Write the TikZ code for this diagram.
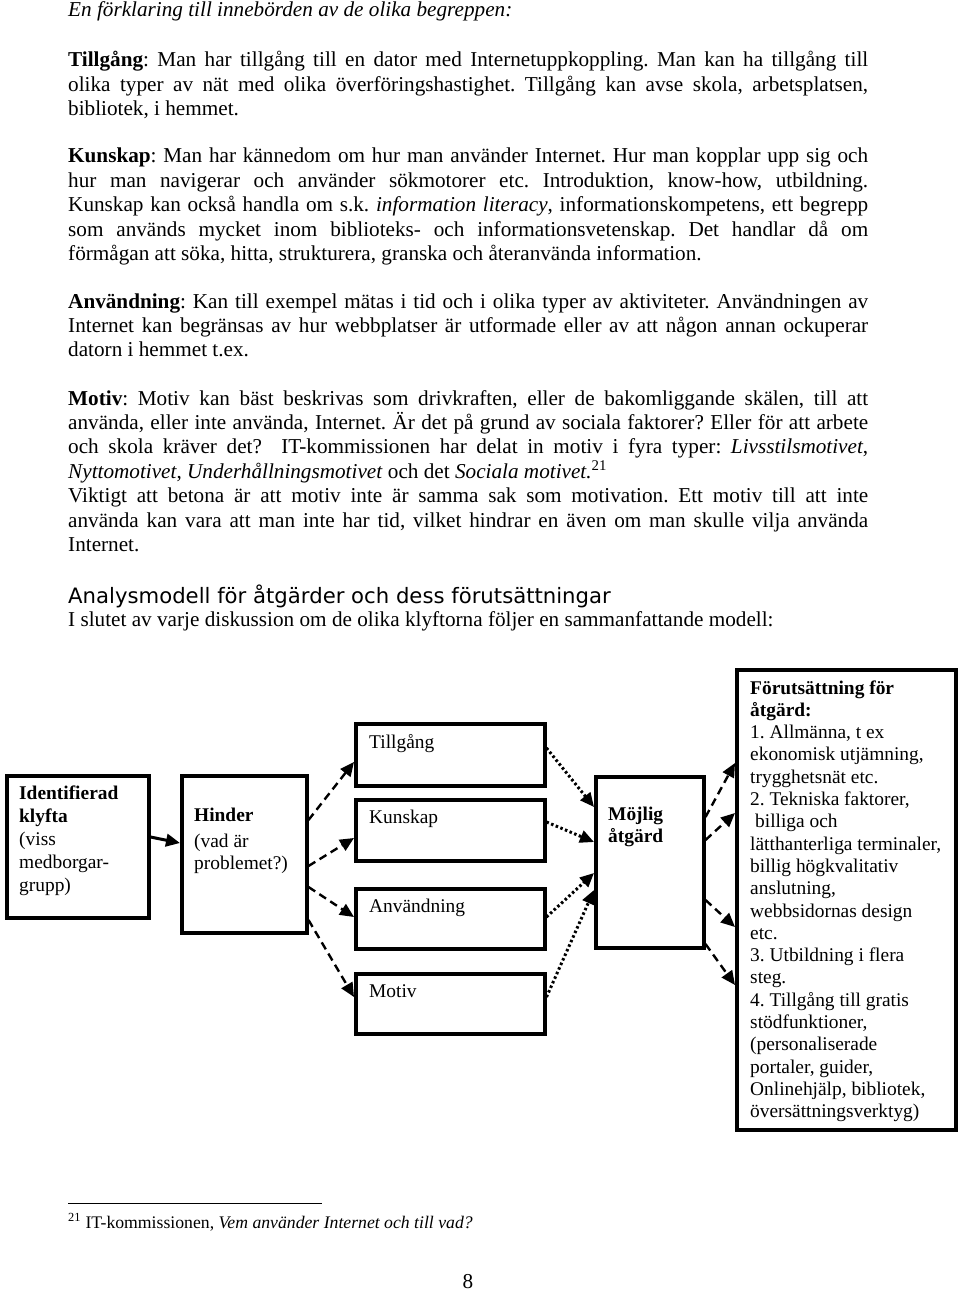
\documentclass[tikz,border=0pt]{standalone}
\usepackage{fontspec}
\setmainfont{Liberation Serif}
\newfontfamily\headfont{DejaVu Sans}
\usetikzlibrary{arrows.meta,calc}

\newcommand\bodysetup{\fontsize{21.2}{24.4}\selectfont\frenchspacing
  \tolerance=9999 \hyphenpenalty=10000 \emergencystretch=30pt\relax}

\tikzset{
  para/.style={anchor=base west, inner sep=0pt, text width=800pt, align=justify, font=\bodysetup},
  box/.style={draw, line width=3.5pt, anchor=north west, inner sep=0pt},
  boxtext/.style={anchor=base west, inner sep=0pt, text width=205pt, align=flush left,
    font=\fontsize{19.4}{22.3}\selectfont\frenchspacing},
  dashedarrow/.style={line width=2.4pt, dash pattern=on 8pt off 5pt, -{Triangle[length=14pt,width=12.5pt]}},
  dottedarrow/.style={line width=3pt, dash pattern=on 2.5pt off 2.5pt, -{Triangle[length=14pt,width=12.5pt]}},
  solidarrow/.style={line width=3pt, -{Triangle[length=14pt,width=12.5pt]}},
}

\begin{document}
\begin{tikzpicture}[x=1pt,y=-1pt]
  \fill[white] (0,0) rectangle (960,1292);
  \useasboundingbox (0,0) rectangle (960,1292);

  % text above the model
  \node[para] (intro) at (68,17) {\itshape En förklaring till innebörden av de olika begreppen:};
  \node[para] (ptillgang) at (68,67) {\textbf{Tillgång}: Man har tillgång till en dator med Internetuppkoppling. Man kan ha tillgång till\linebreak
    olika typer av nät med olika överföringshastighet. Tillgång kan avse skola, arbetsplatsen,\linebreak
    bibliotek, i hemmet.};
  \node[para] (pkunskap) at (68,163) {\textbf{Kunskap}: Man har kännedom om hur man använder Internet. Hur man kopplar upp sig och\linebreak
    hur man navigerar och använder sökmotorer etc. Introduktion, know-how, utbildning.\linebreak
    Kunskap kan också handla om s.k. \textit{information literacy}, informationskompetens, ett begrepp\linebreak
    som används mycket inom biblioteks- och informationsvetenskap. Det handlar då om\linebreak
    förmågan att söka, hitta, strukturera, granska och återanvända information.};
  \node[para] (panvandning) at (68,308) {\textbf{Användning}: Kan till exempel mätas i tid och i olika typer av aktiviteter. Användningen av\linebreak
    Internet kan begränsas av hur webbplatser är utformade eller av att någon annan ockuperar\linebreak
    datorn i hemmet t.ex.};
  \node[para] (pmotiv) at (68,405) {\textbf{Motiv}: Motiv kan bäst beskrivas som drivkraften, eller de bakomliggande skälen, till att\linebreak
    använda, eller inte använda, Internet. Är det på grund av sociala faktorer? Eller för att arbete\linebreak
    och skola kräver det?\ \ IT-kommissionen har delat in motiv i fyra typer: \textit{Livsstilsmotivet},\linebreak
    \textit{Nyttomotivet}, \textit{Underhållningsmotivet} och det \textit{Sociala motivet.}\textsuperscript{21}\\
    Viktigt att betona är att motiv inte är samma sak som motivation. Ett motiv till att inte\linebreak
    använda kan vara att man inte har tid, vilket hindrar en även om man skulle vilja använda\linebreak
    Internet.};
  \node[anchor=base west, inner sep=0pt, font=\headfont\fontsize{21.2}{24}\selectfont] (rubrik) at (68,603)
    {Analysmodell för åtgärder och dess förutsättningar};
  \node[para] (slutet) at (68,626) {I slutet av varje diskussion om de olika klyftorna följer en sammanfattande modell:};

  % the model
  \node[box, minimum width=142pt, minimum height=142pt] (klyfta) at (5,774) {};
  \node[box, minimum width=125pt, minimum height=157pt] (hinder) at (180,774) {};
  \node[box, minimum width=189pt, minimum height=62pt] (tillgang) at (354,722) {};
  \node[box, minimum width=189pt, minimum height=61pt] (kunskap) at (354,798) {};
  \node[box, minimum width=189pt, minimum height=60pt] (anvandning) at (354,887) {};
  \node[box, minimum width=189pt, minimum height=60pt] (motiv) at (354,972) {};
  \node[box, minimum width=108pt, minimum height=171pt] (mojlig) at (594,775) {};
  \node[box, minimum width=219pt, minimum height=460pt] (forut) at (735,668) {};

  \node[boxtext, font=\fontsize{19.4}{23.2}\selectfont] (klyftatxt) at (19,799)
    {\textbf{Identifierad}\\\textbf{klyfta}\\(viss\\medborgar-\\grupp)};
  \node[boxtext] (hindertxt) at (194,821) {\textbf{Hinder}\\[4pt](vad är\\problemet?)};
  \node[boxtext] (tillgangtxt) at (369,748) {Tillgång};
  \node[boxtext] (kunskaptxt) at (369,823) {Kunskap};
  \node[boxtext] (anvandningtxt) at (369,912) {Användning};
  \node[boxtext] (motivtxt) at (369,997) {Motiv};
  \node[boxtext] (mojligtxt) at (608,820) {\textbf{Möjlig}\\\textbf{åtgärd}};
  \node[boxtext] (foruttxt) at (750,694) {\textbf{Förutsättning för}\\\textbf{åtgärd:}\\
    1. Allmänna, t ex\\ekonomisk utjämning,\\trygghetsnät etc.\\
    2. Tekniska faktorer,\\\hspace*{5pt}billiga och\\lätthanterliga terminaler,\\billig högkvalitativ\\anslutning,\\webbsidornas design\\etc.\\
    3. Utbildning i flera\\steg.\\
    4. Tillgång till gratis\\stödfunktioner,\\(personaliserade\\portaler, guider,\\Onlinehjälp, bibliotek,\\översättningsverktyg)};

  \draw[solidarrow] ([yshift=-63pt]klyfta.north east) -- ([yshift=-69pt]hinder.north west);

  \draw[dashedarrow] ([yshift=-46pt]hinder.north east) -- ([yshift=-40pt]tillgang.north west);
  \draw[dashedarrow] ([yshift=-92pt]hinder.north east) -- ([yshift=-40pt]kunskap.north west);
  \draw[dashedarrow] ([yshift=-113pt]hinder.north east) -- ([yshift=-30pt]anvandning.north west);
  \draw[dashedarrow] ([yshift=-146pt]hinder.north east) -- ([yshift=-25pt]motiv.north west);

  \draw[dottedarrow] ([yshift=-26pt]tillgang.north east) -- ([yshift=-32pt]mojlig.north west);
  \draw[dottedarrow] ([yshift=-24pt]kunskap.north east) -- ([yshift=-67pt]mojlig.north west);
  \draw[dottedarrow] ([yshift=-30pt]anvandning.north east) -- ([yshift=-98pt]mojlig.north west);
  \draw[dottedarrow] ([yshift=-25pt]motiv.north east) -- ([yshift=-115pt]mojlig.north west);

  \draw[dashedarrow] ([yshift=-42pt]mojlig.north east) -- ([yshift=-95pt]forut.north west);
  \draw[dashedarrow] ([yshift=-65pt]mojlig.north east) -- ([yshift=-145pt]forut.north west);
  \draw[dashedarrow] ([yshift=-125pt]mojlig.north east) -- ([yshift=-259pt]forut.north west);
  \draw[dashedarrow] ([yshift=-169pt]mojlig.north east) -- ([yshift=-317pt]forut.north west);

  % footnote and page number
  \draw[line width=1pt] (68,1203) -- (322,1203);
  \node[anchor=base west, inner sep=0pt, font=\fontsize{17.7}{20}\selectfont] (fotnot) at (68,1228)
    {\textsuperscript{21} IT-kommissionen, \textit{Vem använder Internet och till vad?}};
  \node[anchor=base, inner sep=0pt, font=\fontsize{21.2}{24}\selectfont] (sida) at (468,1288) {8};
\end{tikzpicture}
\end{document}
